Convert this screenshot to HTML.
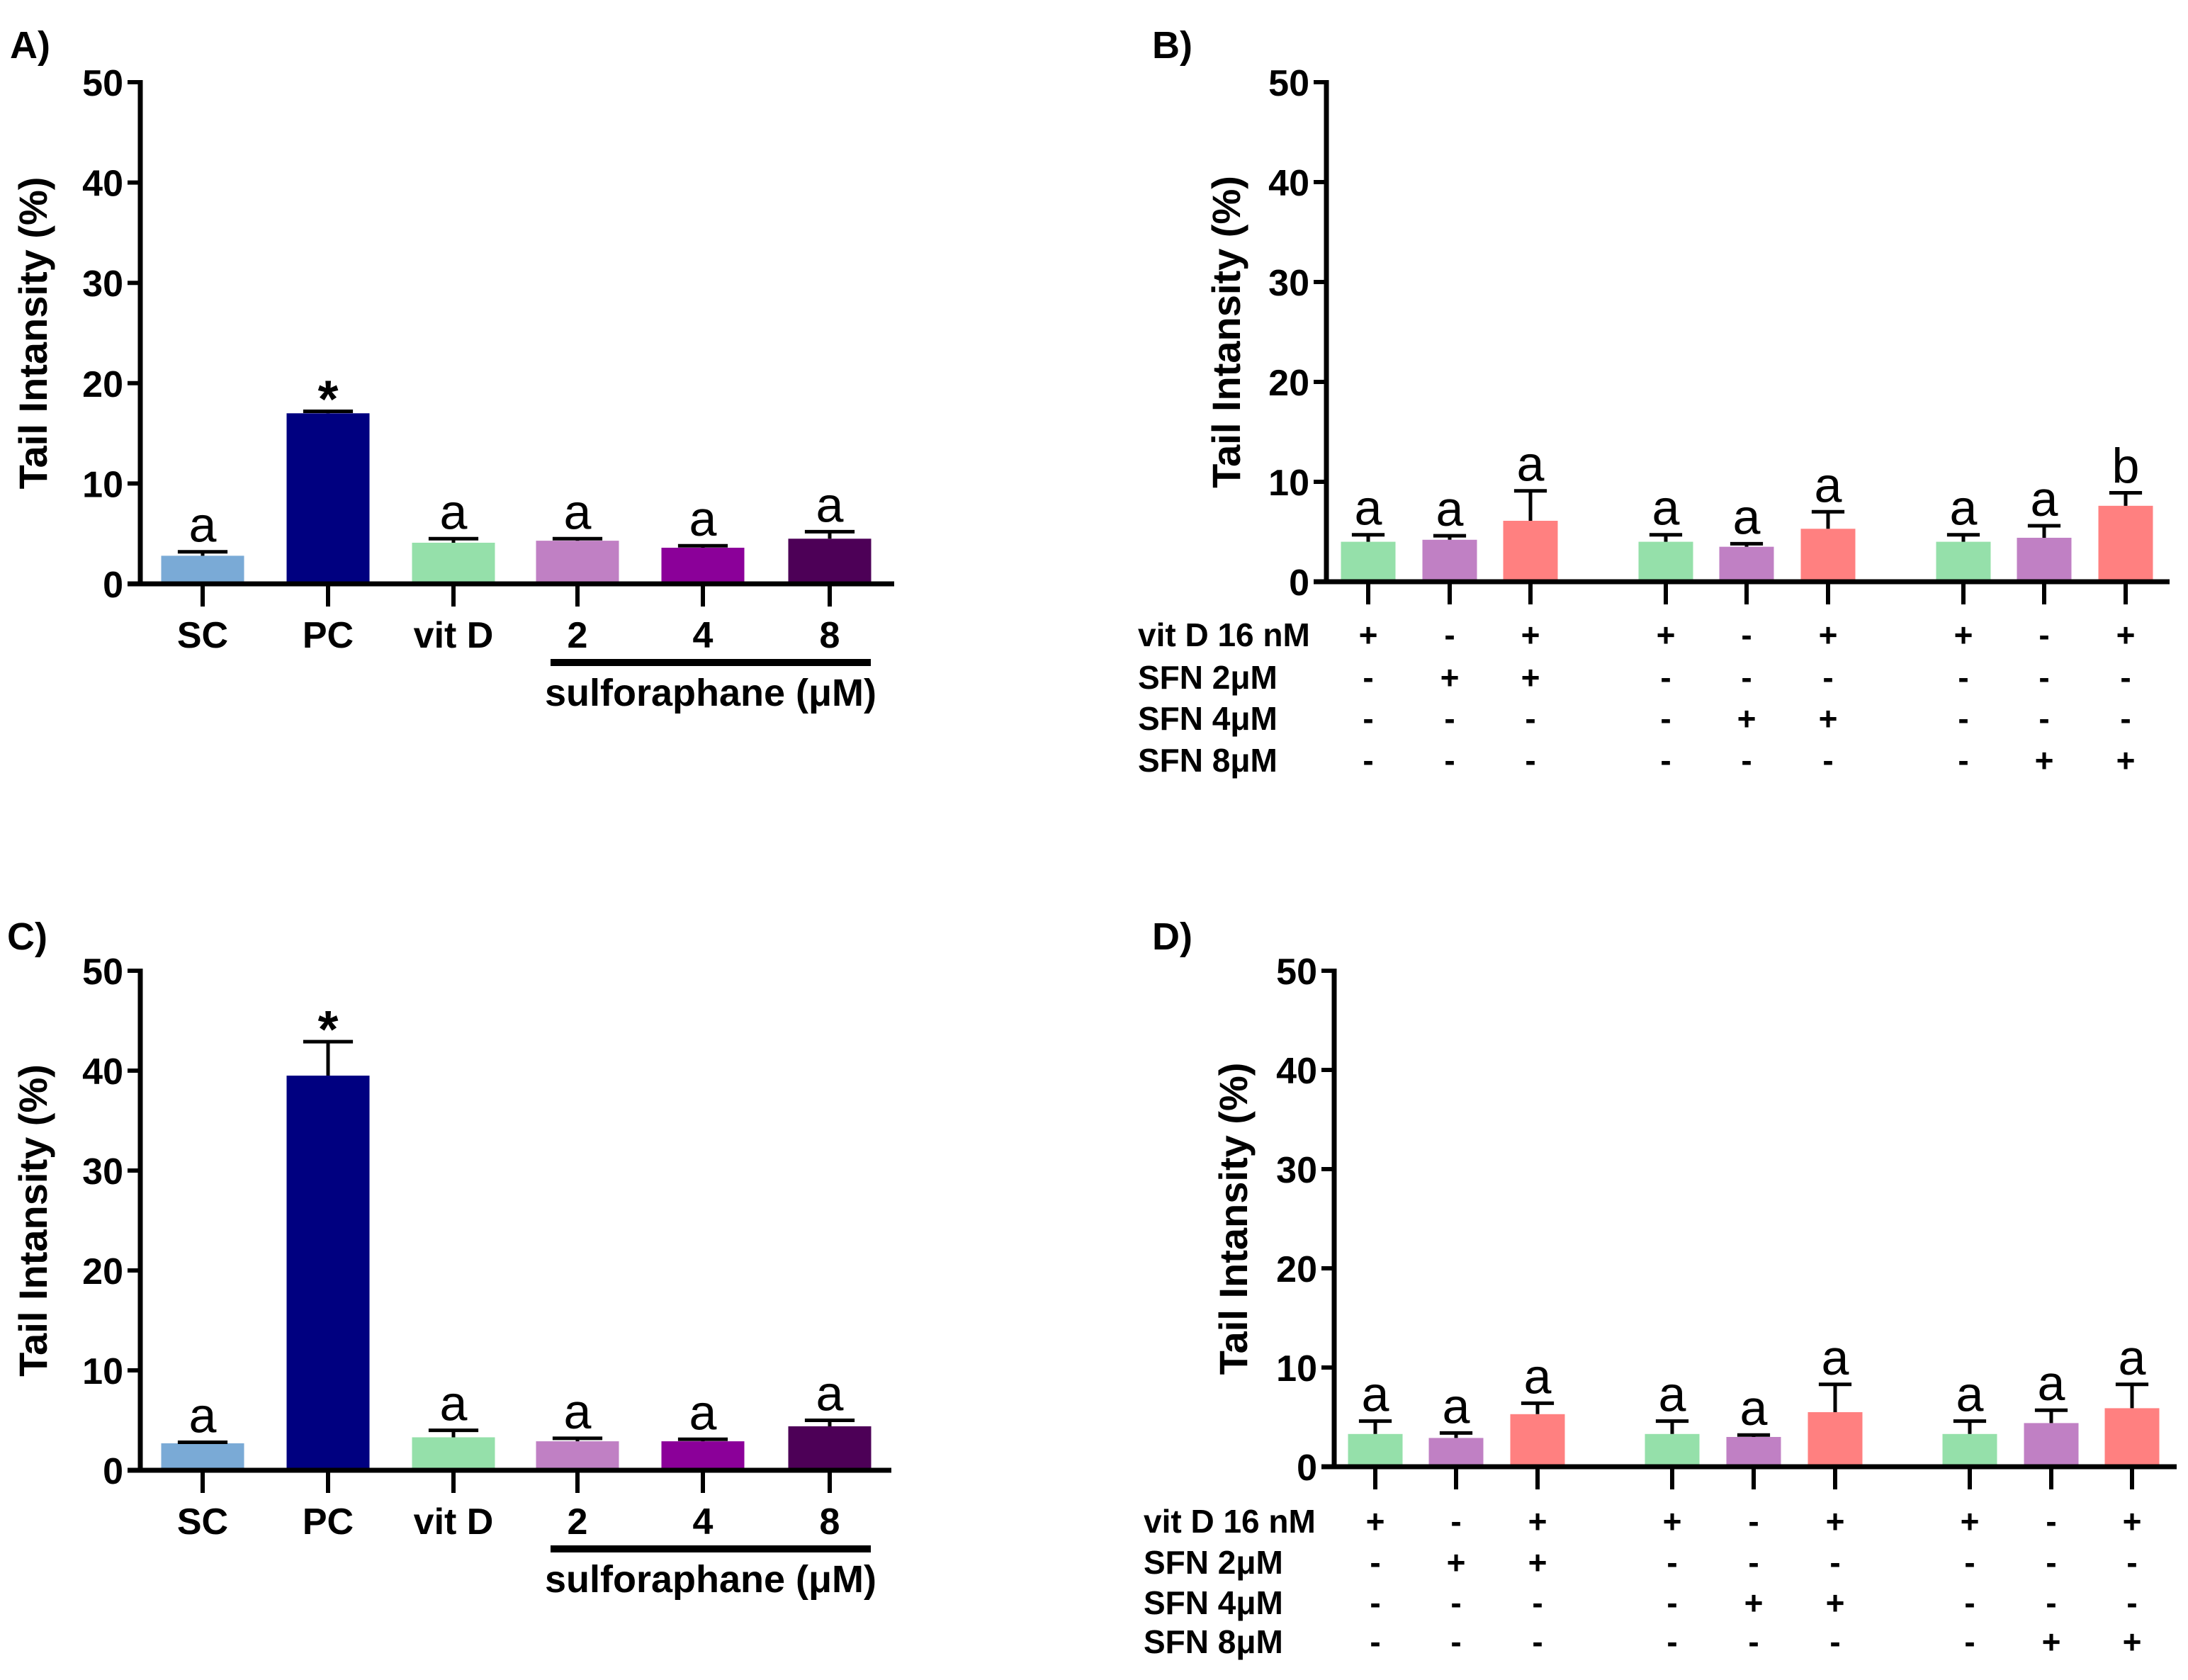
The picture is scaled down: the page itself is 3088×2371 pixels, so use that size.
<!DOCTYPE html>
<html><head><meta charset="utf-8"><style>
html,body{margin:0;padding:0;background:#fff}
svg{display:block}
text{font-family:"Liberation Sans",Arial,sans-serif}
.b{font-weight:bold}
</style></head><body>
<svg id="fig" width="3088" height="2371" viewBox="0 0 3088 2371" xmlns="http://www.w3.org/2000/svg"></svg>
<script>
// Panel A data
const catsA = ["SC","PC","vit D","2","4","8"];
const valsA = [2.8,17.0,4.1,4.3,3.6,4.5];
const errA  = [3.2,17.2,4.5,4.5,3.8,5.2];
const sigA  = ["a","*","a","a","a","a"];
// Panel C data
const valsC = [2.7,39.5,3.3,2.9,2.9,4.4];
const errC  = [2.8,42.9,4.0,3.2,3.1,5.0];
const sigC  = ["a","*","a","a","a","a"];
// Panel B data
const valsB = [4.0,4.2,6.1,4.0,3.5,5.3,4.0,4.4,7.6];
const errB  = [4.7,4.6,9.1,4.7,3.8,7.0,4.7,5.6,8.9];
const sigB  = ["a","a","a","a","a","a","a","a","b"];
// Panel D data
const valsD = [3.3,2.9,5.3,3.3,3.0,5.5,3.3,4.4,5.9];
const errD  = [4.6,3.4,6.4,4.6,3.2,8.3,4.6,5.7,8.3];
const sigD  = ["a","a","a","a","a","a","a","a","a"];
const yTicks = [0,10,20,30,40,50];
const rowLabels = ["vit D 16 nM","SFN 2\u03bcM","SFN 4\u03bcM","SFN 8\u03bcM"];
const design = [
 ["+","-","+","+","-","+","+","-","+"],
 ["-","+","+","-","-","-","-","-","-"],
 ["-","-","-","-","+","+","-","-","-"],
 ["-","-","-","-","-","-","-","+","+"]];
const colorsA = ["#7aaad6","#000080","#95e0aa","#c080c4","#8b0099","#4d0057"];
const colorsB = ["#95e0aa","#c080c4","#ff8080"];

const svg = document.getElementById('fig');
const NS = "http://www.w3.org/2000/svg";
function mk(tag, attrs, parent, txt){
  const e = document.createElementNS(NS, tag);
  for (const k in attrs) e.setAttribute(k, attrs[k]);
  if (txt !== undefined) e.textContent = txt;
  (parent||svg).appendChild(e);
  return e;
}

function panel(o){
  const g = mk('g', {});
  
  
  const y = v => o.y0 - (v/50)*(o.y0 - o.y50);
  const pl = mk('text', {x:o.lx, y:o.ly, 'font-size':54, class:'b'}, g, o.letter);
  
  
  const yt = mk('text', {x:0, y:0, 'font-size':56, class:'b', 'text-anchor':'middle',
    transform:`translate(${o.tx},${(o.y0+o.y50)/2}) rotate(-90)`}, g, "Tail Intansity (%)");
  
  
  o.vals.forEach((v,i)=>{
    const cx = o.xs[i];
    const r = mk('rect', {x:cx-o.bw/2, y:y(v), width:o.bw, height:o.y0-y(v), fill:o.colors[i]}, g);
    
    
    const ey = y(o.errs[i]);
    const el = mk('path', {d:`M${cx},${y(v)} V${ey} M${cx-o.bw*0.3},${ey} H${cx+o.bw*0.3}`, stroke:'#000', 'stroke-width':5, fill:'none'}, g);
    
    
    const s = o.sigs[i];
    const st = mk('text', {x:cx, y: s==='*' ? ey+8 : ey-14, 'font-size': s==='*'?74:70, 'text-anchor':'middle', class: s==='*'?'b':''}, g, s);
    
    
  });
  const ax = mk('path', {d:`M${o.ax},${o.y50-3} V${o.y0} M${o.ax-18},${o.y0} H${o.xend}`, stroke:'#000', 'stroke-width':7, fill:'none'}, g);
  
  
  yTicks.forEach(t=>{
    const tk = mk('path', {d:`M${o.ax-18},${y(t)} H${o.ax}`, stroke:'#000', 'stroke-width':6}, g);
    
    
    const tl = mk('text', {x:o.ax-24, y:y(t)+19, 'font-size':52, class:'b', 'text-anchor':'end'}, g, String(t));
    
    
  });
  o.xs.forEach(cx=>{
    const tk = mk('path', {d:`M${cx},${o.y0} V${o.y0+32}`, stroke:'#000', 'stroke-width':6}, g);
    
    
  });
  if (o.cats){
    o.cats.forEach((c,i)=>{
      const cl = mk('text', {x:o.xs[i], y:o.y0+90, 'font-size':52, class:'b', 'text-anchor':'middle'}, g, c);
      
      
    });
    const ln = mk('rect', {x:o.xs[3]-38, y:o.y0+106, width:o.xs[5]-o.xs[3]+96, height:10, fill:'#000'}, g);
    
    
    const sl = mk('text', {x:(o.xs[3]+o.xs[5])/2+10, y:o.y0+172, 'font-size':54, class:'b', 'text-anchor':'middle'}, g, "sulforaphane (\u03bcM)");
    
    
  }
  if (o.rows){
    o.rows.forEach((ry,r)=>{
      const rl = mk('text', {x:o.rlx, y:ry+17, 'font-size':46, class:'b'}, g, rowLabels[r]);
      
      
      design[r].forEach((d,i)=>{
        const dt = mk('text', {x:o.xs[i], y:ry+17, 'font-size':46, class:'b', 'text-anchor':'middle'}, g, d);
        
        
      });
    });
  }
}
const xA = [286,463,640,815,992,1171];
panel({name:'panel-a', letter:'A)', lx:14, ly:82, tx:66, ax:198, y0:824, y50:116, xend:1262,
  xs:xA, bw:117, vals:valsA, errs:errA, sigs:sigA, colors:colorsA, cats:catsA});
panel({name:'panel-c', letter:'C)', lx:10, ly:1340, tx:66, ax:198, y0:2075, y50:1370, xend:1258,
  xs:xA, bw:117, vals:valsC, errs:errC, sigs:sigC, colors:colorsA, cats:catsA});
const cb = [0,1,2,0,1,2,0,1,2].map(i=>colorsB[i]);
panel({name:'panel-b', letter:'B)', lx:1626, ly:82, tx:1750, ax:1872, y0:821, y50:116, xend:3062,
  xs:[1931,2046,2160,2351,2465,2580,2771,2885,3000], bw:77, vals:valsB, errs:errB, sigs:sigB, colors:cb,
  rows:[895,955,1013,1072], rlx:1606});
panel({name:'panel-d', letter:'D)', lx:1626, ly:1340, tx:1760, ax:1883, y0:2070, y50:1370, xend:3072,
  xs:[1941,2055,2170,2360,2475,2590,2780,2895,3009], bw:77, vals:valsD, errs:errD, sigs:sigD, colors:cb,
  rows:[2146,2204,2261,2316], rlx:1614});
</script>
</body></html>
